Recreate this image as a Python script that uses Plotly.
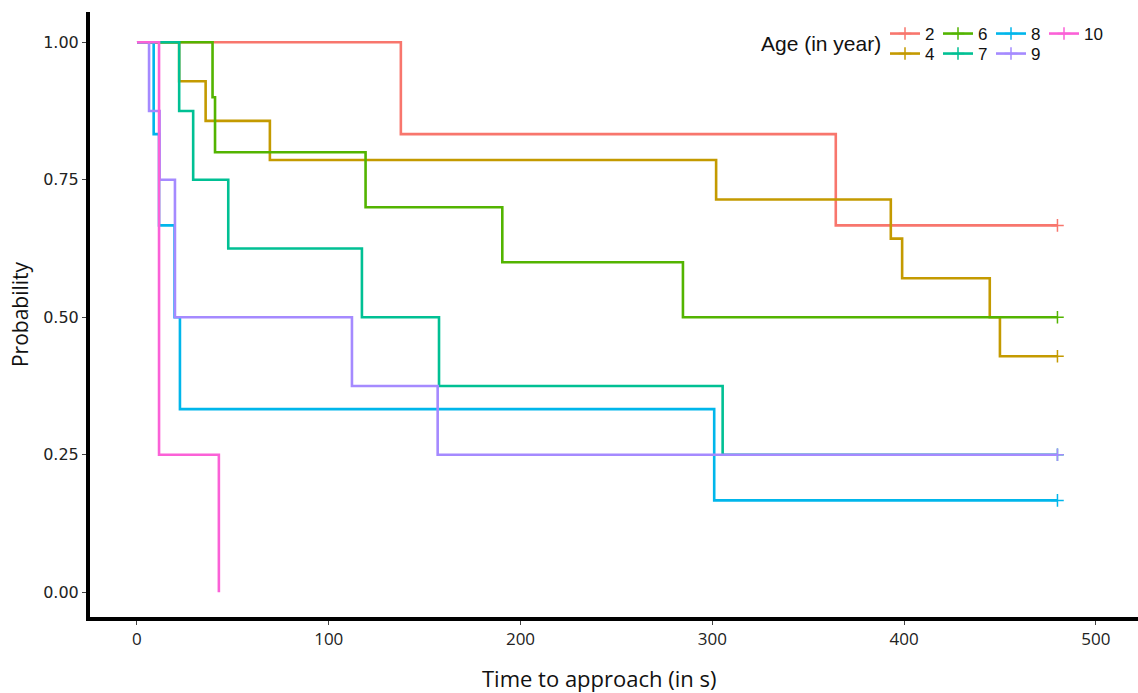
import plotly.graph_objects as go

ages = ["2", "4", "6", "7", "8", "9", "10"]
colors = ["#F8766D", "#C49A00", "#53B400", "#00C094", "#00B6EB", "#A58AFF", "#FB61D7"]

time_2 = [0, 137.6, 364.4, 480]
surv_2 = [1, 0.833, 0.667, 0.667]
time_4 = [0, 22, 35.8, 69.3, 302, 393.1, 399, 444.7, 450, 480]
surv_4 = [1, 0.929, 0.857, 0.786, 0.714, 0.643, 0.571, 0.5, 0.429, 0.429]
time_6 = [0, 39.4, 40.7, 119.2, 190.5, 284.7, 480]
surv_6 = [1, 0.9, 0.8, 0.7, 0.6, 0.5, 0.5]
time_7 = [0, 22, 29.3, 47.6, 117.3, 157.5, 305.4, 480]
surv_7 = [1, 0.875, 0.75, 0.625, 0.5, 0.375, 0.25, 0.25]
time_8 = [0, 8.7, 11.5, 19.6, 22.4, 301, 480]
surv_8 = [1, 0.833, 0.667, 0.5, 0.333, 0.167, 0.167]
time_9 = [0, 6.3, 11.8, 19.8, 112.1, 156.8, 480]
surv_9 = [1, 0.875, 0.75, 0.5, 0.375, 0.25, 0.25]
time_10 = [0, 11.5, 42.7]
surv_10 = [1, 0.25, 0.0]

censor_2 = [480]
censor_4 = [480]
censor_6 = [480]
censor_7 = [480]
censor_8 = [480]
censor_9 = [480]
censor_10 = []

times = [time_2, time_4, time_6, time_7, time_8, time_9, time_10]
survs = [surv_2, surv_4, surv_6, surv_7, surv_8, surv_9, surv_10]
censors = [censor_2, censor_4, censor_6, censor_7, censor_8, censor_9, censor_10]

x_ticks = [0, 100, 200, 300, 400, 500]
y_ticks = [0, 0.25, 0.5, 0.75, 1.0]
y_tick_text = ["0.00", "0.25", "0.50", "0.75", "1.00"]

LW = 2.6
fig = go.Figure()


def surv_at(t_list, s_list, t):
    val = s_list[0]
    for tt, ss in zip(t_list, s_list):
        if tt <= t:
            val = ss
    return val


for age, col, t, s, c in zip(ages, colors, times, survs, censors):
    fig.add_trace(go.Scatter(x=t, y=s, mode="lines", line=dict(color=col, width=LW, shape="hv"),
                             showlegend=False, hoverinfo="skip"))
    if c:
        fig.add_trace(go.Scatter(x=c, y=[surv_at(t, s, ci) for ci in c], mode="markers",
                                 marker=dict(symbol="cross-thin", size=9, color=col,
                                             line=dict(color=col, width=1.5)),
                                 showlegend=False, hoverinfo="skip"))

row1 = ["2", "6", "8", "10"]
for age, col in zip(ages, colors):
    fig.add_trace(go.Scatter(x=[None], y=[None], mode="lines+markers", name=age,
                             line=dict(color=col, width=LW),
                             marker=dict(symbol="cross-thin", size=9, color=col,
                                         line=dict(color=col, width=1.5)),
                             legendwidth=30 if age == "10" else None,
                             legend="legend" if age in row1 else "legend2"))

leg_font = dict(family="Liberation Sans, Arial", size=17, color="#111")
fig.update_layout(
    width=1138, height=693,
    margin=dict(l=90, r=0, t=12, b=76),
    plot_bgcolor="white", paper_bgcolor="white",
    xaxis=dict(range=[-24.5, 522], tickvals=x_ticks, ticks="outside", ticklen=4, tickwidth=1,
               tickcolor="#444", showline=True, linecolor="black", linewidth=4, showgrid=False,
               zeroline=False, tickfont=dict(family="Liberation Sans Narrow, Open Sans", size=17, color="#222")),
    yaxis=dict(range=[-0.045, 1.055], tickvals=y_ticks, ticktext=y_tick_text, ticks="outside", ticklen=4,
               tickwidth=1, tickcolor="#444", showline=True, linecolor="black", linewidth=4,
               showgrid=False, zeroline=False,
               tickfont=dict(family="DejaVu Sans", size=16, color="#222"),
               title=dict(text="Probability", standoff=10,
                          font=dict(family="Open Sans", size=21, color="#111"))),
    legend=dict(orientation="h", x=(885 - 90) / 1048, y=(617 - 16) / 605, xanchor="left", yanchor="top",
                font=leg_font, bgcolor="rgba(0,0,0,0)", entrywidth=8, entrywidthmode="pixels",
                itemwidth=30, tracegroupgap=0),
    legend2=dict(orientation="h", x=(885 - 90) / 1048, y=(617 - 36) / 605, xanchor="left", yanchor="top",
                 font=leg_font, bgcolor="rgba(0,0,0,0)", entrywidth=8, entrywidthmode="pixels",
                 itemwidth=30, tracegroupgap=0),
)
fig.add_annotation(text="Age (in year)", x=(883 - 90) / 1048, y=(617 - 43) / 605, xref="paper", yref="paper",
                   xanchor="right", yanchor="middle", showarrow=False,
                   font=dict(family="Liberation Sans, Arial", size=21, color="#111"))
fig.add_annotation(text="Time to approach (in s)", x=(599 - 90) / 1048, y=(617 - 678) / 605,
                   xref="paper", yref="paper", xanchor="center", yanchor="middle", showarrow=False,
                   font=dict(family="Liberation Sans Narrow, Open Sans", size=22, color="#111"))

fig.write_html("out.html")
